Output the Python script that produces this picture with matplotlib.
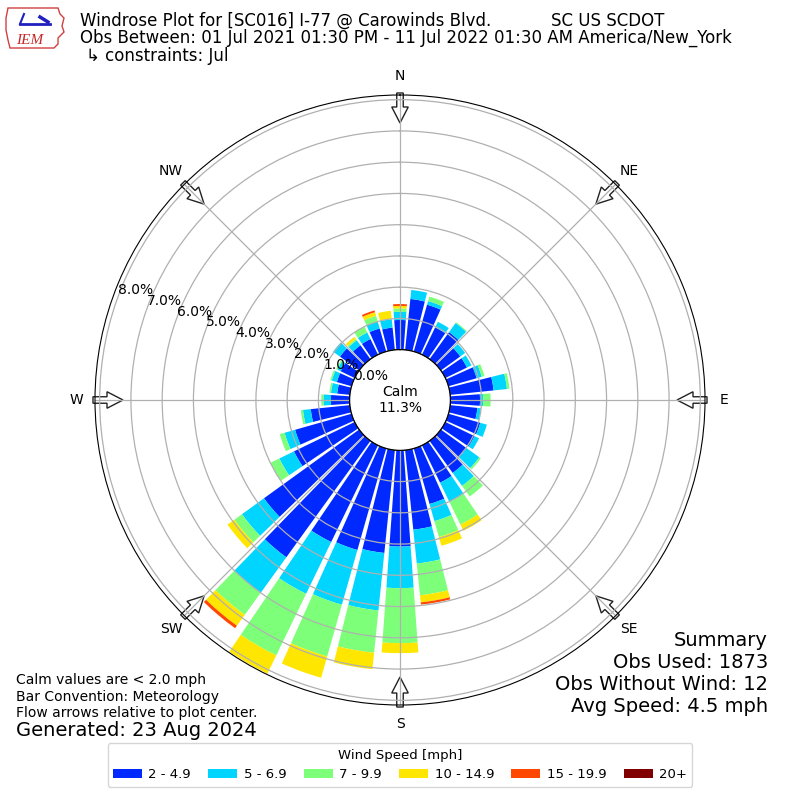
import numpy as np
import matplotlib
matplotlib.use("Agg")
import matplotlib.pyplot as plt
from matplotlib.patches import FancyArrow, Polygon

# wind direction bins (deg, where wind comes from)
directions = np.arange(0, 360, 10)
speed_labels = ["2 - 4.9", "5 - 6.9", "7 - 9.9", "10 - 14.9", "15 - 19.9", "20+"]

# percent of observations per direction bin and speed class
spd_2_5 = [0.95, 1.64, 1.56, 0.97, 1.07, 0.77, 0.77, 0.94, 1.40, 0.95, 0.88, 1.06,
           1.04, 1.02, 1.27, 1.33, 1.85, 2.56, 3.08, 3.31, 3.38, 3.44, 4.60, 3.76,
           2.16, 1.88, 1.26, 0.60, 0.41, 0.49, 0.50, 0.76, 0.55, 0.56, 0.77, 0.72]
spd_5_7 = [0.26, 0.29, 0.12, 0.20, 0.36, 0.19, 0.16, 0.17, 0.43, 0.10, 0.11, 0.22,
           0.16, 0.50, 0.51, 0.69, 0.57, 1.09, 1.33, 1.85, 1.82, 1.84, 1.40, 0.87,
           0.52, 0.35, 0.25, 0.24, 0.20, 0.17, 0.12, 0.27, 0.20, 0.23, 0.23, 0.27]
spd_7_10 = [0.11, 0.00, 0.15, 0.00, 0.03, 0.00, 0.00, 0.09, 0.08, 0.24, 0.00, 0.00,
            0.00, 0.06, 0.42, 0.80, 0.53, 1.02, 1.76, 1.36, 1.72, 2.19, 0.87, 0.30,
            0.31, 0.16, 0.07, 0.07, 0.05, 0.05, 0.04, 0.00, 0.05, 0.21, 0.19, 0.02]
spd_10_15 = [0.08, 0.00, 0.00, 0.00, 0.00, 0.00, 0.00, 0.00, 0.00, 0.00, 0.00, 0.00,
             0.00, 0.00, 0.00, 0.22, 0.29, 0.23, 0.32, 0.53, 0.71, 0.65, 0.43, 0.27,
             0.00, 0.00, 0.00, 0.00, 0.00, 0.00, 0.00, 0.00, 0.08, 0.00, 0.12, 0.25]
spd_15_20 = [0.06, 0.00, 0.00, 0.00, 0.00, 0.00, 0.00, 0.00, 0.00, 0.00, 0.00, 0.00,
             0.00, 0.00, 0.00, 0.00, 0.00, 0.07, 0.00, 0.00, 0.00, 0.00, 0.10, 0.00,
             0.00, 0.00, 0.00, 0.00, 0.00, 0.00, 0.00, 0.00, 0.00, 0.00, 0.06, 0.00]
spd_20 = [0.0] * 36
calm_pct = 11.3

summary = ["Summary", "Obs Used: 1873", "Obs Without Wind: 12", "Avg Speed: 4.5 mph"]
notes = ["Calm values are < 2.0 mph", "Bar Convention: Meteorology",
         "Flow arrows relative to plot center."]
compass = ["N", "NE", "E", "SE", "S", "SW", "W", "NW"]

W, H = 800, 800


def fx(px):
    return px / W


def fy(py):
    return 1 - py / H


fig = plt.figure(figsize=(8, 8), dpi=100)
ax = fig.add_axes([0.11875, 0.11875, 0.7625, 0.7625], projection="polar")
ax.set_theta_zero_location("N")
ax.set_theta_direction(-1)
ax.set_rorigin(-1.61)
ax.set_ylim(0, 8.15)

colors = plt.cm.jet(np.arange(1, 7) / 6.0)
series = [spd_2_5, spd_5_7, spd_7_10, spd_10_15, spd_15_20, spd_20]
theta = np.radians(directions)
bottom = np.zeros(len(directions))
handles = []
for vals, c, lab in zip(series, colors, speed_labels):
    vals = np.array(vals)
    b = ax.bar(theta, vals, width=np.radians(8.3), bottom=bottom, color=c,
               linewidth=0, label=lab)
    handles.append(b)
    bottom += vals

ax.set_xticks(np.radians(np.arange(0, 360, 45)))
ax.set_xticklabels([])
ax.set_yticks(np.arange(0, 9))
ax.set_yticklabels(["%.1f%%" % v for v in range(9)], fontsize=10)
ax.set_rlabel_position(290)
ax.grid(True, color="#b0b0b0", lw=0.9)

# calm circle
tt = np.linspace(0, 2 * np.pi, 300)
ax.plot(tt, np.zeros_like(tt), color="k", lw=1.0)
ax.text(0.5, 0.5, "Calm\n%.1f%%" % calm_pct, transform=ax.transAxes,
        ha="center", va="center", fontsize=10)

# compass labels and flow arrows
for i, lab in enumerate(compass):
    a = np.radians(i * 45)
    s, c = np.sin(a), np.cos(a)
    ax.text(0.5 + 324 / 610 * s, 0.5 + 324 / 610 * c, lab, transform=ax.transAxes,
            ha="center", va="center", fontsize=10)
    r0, r1 = 307 / 610, 277 / 610
    arr = FancyArrow(0.5 + r0 * s, 0.5 + r0 * c, (r1 - r0) * s, (r1 - r0) * c,
                     width=6.5 / 610, head_width=16.5 / 610, head_length=16 / 610,
                     length_includes_head=True, transform=ax.transAxes,
                     facecolor="white", edgecolor="#222222", lw=1.0,
                     clip_on=False, zorder=1)
    ax.add_patch(arr)

# header
fig.text(fx(80), fy(21), "Windrose Plot for [SC016] I-77 @ Carowinds Blvd.",
         fontsize=12, va="center")
fig.text(fx(551), fy(21), "SC US SCDOT", fontsize=12, va="center")
fig.text(fx(80), fy(38),
         "Obs Between: 01 Jul 2021 01:30 PM - 11 Jul 2022 01:30 AM America/New_York",
         fontsize=12, va="center")
fig.text(fx(86), fy(56), "\u21b3 constraints: Jul", fontsize=12, va="center")

# rough IEM logo
iowa = [(8, 8), (58, 8), (60, 14), (64, 18), (62, 26), (64, 32), (58, 38),
        (58, 44), (54, 48), (10, 48), (8, 40), (6, 30), (6, 18)]
fig.add_artist(Polygon([(fx(x), fy(y)) for x, y in iowa], closed=True,
                       facecolor="none", edgecolor="#d04040", lw=1.0,
                       transform=fig.transFigure))
fig.add_artist(plt.Line2D([fx(20), fx(50)], [fy(24), fy(24)], color="#2020c0",
                          lw=2, transform=fig.transFigure))
fig.add_artist(plt.Line2D([fx(20), fx(24)], [fy(24), fy(14)], color="#2020c0",
                          lw=1.5, transform=fig.transFigure))
fig.add_artist(plt.Line2D([fx(40), fx(48)], [fy(17), fy(22)], color="#2020c0",
                          lw=2.5, transform=fig.transFigure))
fig.text(fx(30), fy(40), "IEM", color="#c82828", fontsize=11, ha="center",
         va="center", family="Liberation Serif", style="italic")

# footer notes
for k, t in enumerate(notes):
    fig.text(fx(16), fy(680 + k * 16.5), t, fontsize=10, va="center")
fig.text(fx(16), fy(730), "Generated: 23 Aug 2024", fontsize=14, va="center")

for k, t in enumerate(summary):
    fig.text(fx(768), fy(640 + k * 22), t, fontsize=14, ha="right", va="center")

fig.legend(handles=handles, loc="center", bbox_to_anchor=(0.5, fy(765)),
           ncol=6, title="Wind Speed [mph]", fontsize=9.5, title_fontsize=9.5,
           handlelength=2.2, handletextpad=0.5, columnspacing=1.3)

fig.savefig("out.png", dpi=100)
